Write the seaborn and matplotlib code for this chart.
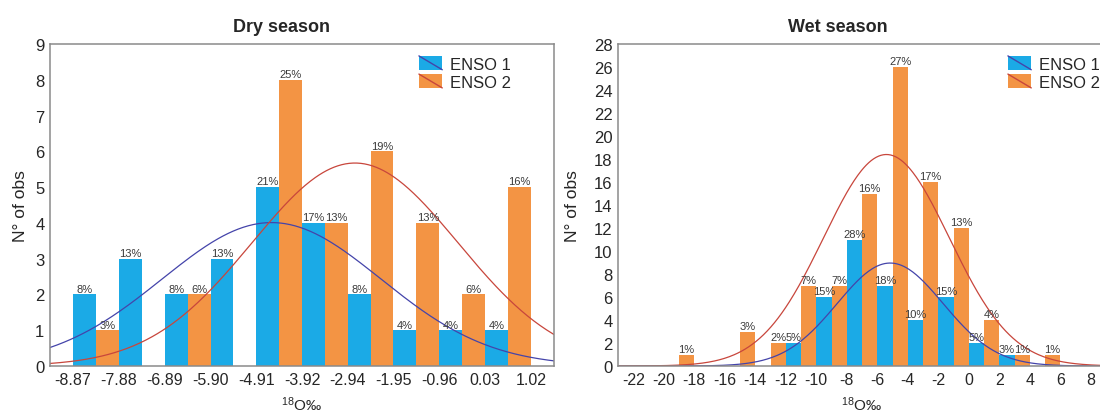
import numpy as np
import pandas as pd
import matplotlib
matplotlib.use("Agg")
import matplotlib.pyplot as plt
import seaborn as sns
from matplotlib.colors import to_rgb
from matplotlib.patches import Patch, Rectangle
from matplotlib.lines import Line2D
from matplotlib.legend_handler import HandlerBase

# ---------------- data ----------------
series_names = ["ENSO 1", "ENSO 2"]

dry_edges = [-8.87, -7.88, -6.89, -5.90, -4.91, -3.92, -2.94, -1.95, -0.96, 0.03, 1.02]
dry_tick_labels = ["-8.87", "-7.88", "-6.89", "-5.90", "-4.91", "-3.92", "-2.94",
                   "-1.95", "-0.96", "0.03", "1.02"]
dry_enso1 = [2, 3, 2, 3, 5, 4, 2, 1, 1, 1]
dry_enso2 = [1, 0, 2, 0, 8, 4, 6, 4, 2, 5]
dry_yticks = [0, 1, 2, 3, 4, 5, 6, 7, 8, 9]

wet_edges = [-22, -20, -18, -16, -14, -12, -10, -8, -6, -4, -2, 0, 2, 4, 6, 8]
wet_tick_labels = ["-22", "-20", "-18", "-16", "-14", "-12", "-10", "-8", "-6",
                   "-4", "-2", "0", "2", "4", "6", "8"]
wet_enso1 = [0, 0, 0, 0, 0, 2, 6, 11, 7, 4, 6, 2, 1, 0, 0]
wet_enso2 = [0, 1, 0, 3, 2, 7, 7, 15, 26, 16, 12, 4, 1, 1, 0]
wet_yticks = [0, 2, 4, 6, 8, 10, 12, 14, 16, 18, 20, 22, 24, 26, 28]

titles = ["Dry season", "Wet season"]
ylabel = "N° of obs"
xlabel = r"$\mathregular{^{18}}$O‰"

bar_colors = ["#1BAAE6", "#F39444"]
curve_colors = ["#4444AA", "#C8463C"]

# ---------------- style ----------------
sns.set_style("white")
plt.rcParams["font.family"] = ["Liberation Sans", "DejaVu Sans"]
plt.rcParams["mathtext.fontset"] = "custom"
plt.rcParams["mathtext.rm"] = "Liberation Sans"

fig = plt.figure(figsize=(11.0, 4.14), dpi=100)
ax_dry = fig.add_axes([50 / 1100, 1 - 367 / 414, 504 / 1100, 322 / 414])
ax_wet = fig.add_axes([618 / 1100, 1 - 367 / 414, 488 / 1100, 322 / 414])


class PatchLineHandler(HandlerBase):
    def __init__(self, fc, lc):
        super().__init__()
        self.fc = fc
        self.lc = lc

    def create_artists(self, legend, orig_handle, xdescent, ydescent, width,
                       height, fontsize, trans):
        r = Rectangle((-xdescent, -ydescent), width, height, facecolor=self.fc,
                      edgecolor="none", transform=trans)
        ln = Line2D([-xdescent, -xdescent + width], [-ydescent + height, -ydescent],
                    color=self.lc, lw=1.0, transform=trans)
        return [r, ln]


def pct_labels(counts):
    total = sum(counts)
    out = []
    for c in counts:
        if c == 0:
            out.append("")
        else:
            out.append(f"{int(np.floor(c / total * 100 + 0.5))}%")
    return out


def draw_panel(ax, edges, c1, c2, tick_labels, yticks, title, title_x,
               leg_anchor, ylabel_x):
    edges = np.asarray(edges, dtype=float)
    mids = (edges[:-1] + edges[1:]) / 2
    n = len(mids)
    df = pd.DataFrame({
        "x": np.concatenate([mids, mids]),
        "w": list(c1) + list(c2),
        "series": [series_names[0]] * n + [series_names[1]] * n,
    })
    sns.histplot(data=df, x="x", weights="w", hue="series", hue_order=series_names,
                 bins=edges.tolist(), multiple="dodge", shrink=1, palette=bar_colors,
                 alpha=1, linewidth=0, legend=False, ax=ax)

    bw = np.mean(np.diff(edges))
    xlim = (edges[0] - bw / 2, edges[-1] + bw / 2)

    # percentage labels
    counts_by_color = {to_rgb(bar_colors[0]): c1, to_rgb(bar_colors[1]): c2}
    for cont in ax.containers:
        fc = tuple(np.round(cont.patches[0].get_facecolor()[:3], 4))
        for key, cnt in counts_by_color.items():
            if np.allclose(fc, key, atol=1e-3):
                ax.bar_label(cont, labels=pct_labels(cnt), fontsize=8,
                             color="#3a3a3a", padding=0.5)

    # fitted normal curves
    xs = np.linspace(xlim[0], xlim[1], 400)
    for cnt, col in zip([c1, c2], curve_colors):
        cnt = np.asarray(cnt, dtype=float)
        N = cnt.sum()
        mu = np.sum(cnt * mids) / N
        sd = np.sqrt(np.sum(cnt * (mids - mu) ** 2) / (N - 1))
        ys = N * bw * np.exp(-0.5 * ((xs - mu) / sd) ** 2) / (sd * np.sqrt(2 * np.pi))
        sns.lineplot(x=xs, y=ys, color=col, linewidth=0.9, ax=ax)

    ax.set_xlim(*xlim)
    ax.set_ylim(yticks[0], yticks[-1])
    ax.set_xticks(edges)
    ax.set_xticklabels(tick_labels, fontsize=11.5)
    ax.set_yticks(yticks)
    ax.set_yticklabels([str(t) for t in yticks], fontsize=12)
    ax.tick_params(axis="both", direction="in", length=2, width=0.8,
                   color="#808080", pad=4)
    for sp in ax.spines.values():
        sp.set_color("#8a8a8a")
        sp.set_linewidth(1.1)

    ax.set_title(title, fontsize=13, fontweight="bold", x=title_x, pad=9)
    ax.set_ylabel(ylabel, fontsize=12.5)
    ax.yaxis.set_label_coords(ylabel_x, 0.5)
    ax.set_xlabel(xlabel, fontsize=11)
    ax.xaxis.set_label_coords(0.5, -0.088)
    ax.xaxis.label.set_va("top")

    h1 = Patch(facecolor=bar_colors[0])
    h2 = Patch(facecolor=bar_colors[1])
    ax.legend([h1, h2], series_names,
              handler_map={h1: PatchLineHandler(bar_colors[0], curve_colors[0]),
                           h2: PatchLineHandler(bar_colors[1], curve_colors[1])},
              loc="upper left", bbox_to_anchor=leg_anchor, frameon=False,
              fontsize=12, handlelength=1.4, handleheight=0.9, handletextpad=0.45,
              labelspacing=0.15, borderpad=0, borderaxespad=0)


draw_panel(ax_dry, dry_edges, dry_enso1, dry_enso2, dry_tick_labels, dry_yticks,
           titles[0], 0.46, (0.732, 0.963), -0.044)
draw_panel(ax_wet, wet_edges, wet_enso1, wet_enso2, wet_tick_labels, wet_yticks,
           titles[1], 0.45, (0.799, 0.963), -0.078)

fig.savefig("out.png", dpi=100)
